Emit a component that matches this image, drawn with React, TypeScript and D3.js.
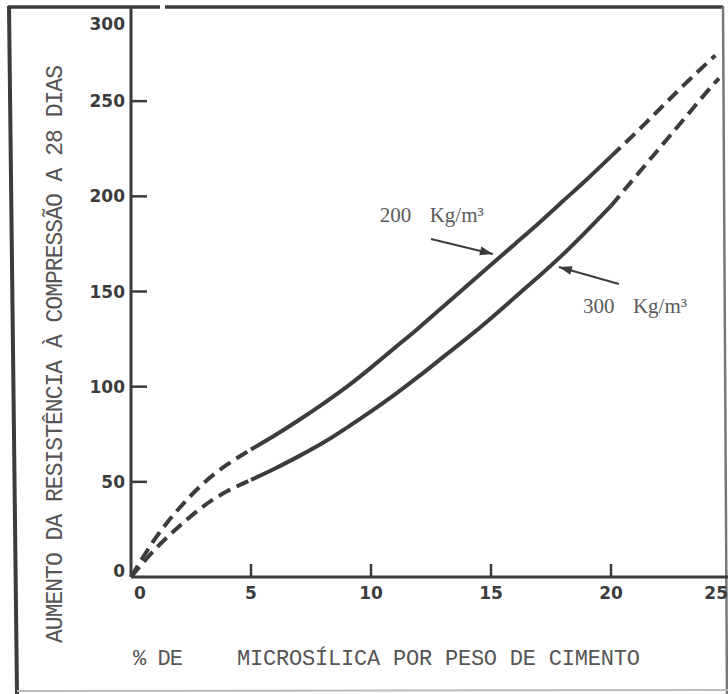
import React from "react";
import * as d3 from "d3";

// ---- data ----
const xTicks = [0, 5, 10, 15, 20, 25];
const yTicks = [0, 50, 100, 150, 200, 250, 300];
const yTickMarks = [50, 100, 150, 200, 250];
const xTickMarks = [5, 10, 15, 20];

// 200 Kg/m3 series
const x200 = [0, 1, 2, 3, 4, 5, 6, 7, 8, 9, 10, 11, 12, 13, 14, 15, 16, 17, 18, 19, 20, 21, 22, 23, 24, 24.35];
const v200 = [0, 20, 36, 49, 59, 67, 74.5, 82.5, 91, 100, 110, 120.5, 131, 142, 153, 164, 175, 186, 197.5, 209, 221, 233, 245.5, 258, 270, 274];

// 300 Kg/m3 series
const x300 = [0, 1, 2, 3, 4, 5, 6, 7, 8, 9, 10, 11, 12, 13, 14, 15, 16, 17, 18, 19, 20, 21, 22, 23, 24, 24.5];
const v300 = [0, 14.5, 26.5, 37, 45, 51, 57, 63.5, 70.5, 78.5, 87, 96, 105.5, 115.5, 125.5, 136, 147, 158, 169.5, 182, 195, 210, 225, 240, 255, 262];

// solid (measured) range for each series; outside it the curve is dashed
const solidFrom = [5, 5];
const solidTo = [20, 20];

const seriesNums = ["200", "300"];
const unitLabel = "Kg/m³";
// label anchor (data units) and arrow start/tip (data units)
const labelPos = [[10.36, 186.5], [18.83, 138.7]];
const arrowStart = [[12.5, 177.6], [20.33, 153.9]];
const arrowTip = [[15.08, 169.7], [17.83, 162.9]];

const yTitle = "AUMENTO DA RESISTÊNCIA À COMPRESSÃO A 28 DIAS";
const xTitleA = "% DE";
const xTitleB = "MICROSÍLICA POR PESO DE CIMENTO";

const W = 728;
const H = 694;
const INK = "#3c3c3c";
const TEXT = "#555";

export default function App() {
  const x = d3.scaleLinear().domain([0, 25]).range([131, 731]);
  const y = d3.scaleLinear().domain([0, 300]).range([577, 6]);
  const line = d3
    .line<[number, number]>()
    .x((d) => x(d[0]))
    .y((d) => y(d[1]))
    .curve(d3.curveNatural);

  const series = [
    x200.map((xv, i) => [xv, v200[i]] as [number, number]),
    x300.map((xv, i) => [xv, v300[i]] as [number, number]),
  ];

  const segs: { d: string; dashed: boolean }[] = [];
  series.forEach((pts, si) => {
    const a = pts.filter((p) => p[0] <= solidFrom[si]);
    const b = pts.filter((p) => p[0] >= solidFrom[si] && p[0] <= solidTo[si]);
    const c = pts.filter((p) => p[0] >= solidTo[si]);
    segs.push({ d: line(a) || "", dashed: true });
    segs.push({ d: line(b) || "", dashed: false });
    segs.push({ d: line(c) || "", dashed: true });
  });

  const arrowHead = (sx: number, sy: number, tx: number, ty: number) => {
    const ang = Math.atan2(ty - sy, tx - sx);
    const L = 13;
    const w = 4.5;
    const bx = tx - L * Math.cos(ang);
    const by = ty - L * Math.sin(ang);
    const px = -Math.sin(ang) * w;
    const py = Math.cos(ang) * w;
    return `M${tx},${ty}L${bx + px},${by + py}L${bx - px},${by - py}Z`;
  };

  return (
    <svg
      width={W}
      height={H}
      style={{ position: "absolute", left: 0, top: 0, background: "#fff" }}
    >
      <rect x={0} y={0} width={W} height={H} fill="#fff" />
      {/* frame */}
      <line x1={8} y1={7} x2={160} y2={7} stroke={INK} strokeWidth={3.5} />
      <line x1={165} y1={7} x2={723} y2={7} stroke={INK} strokeWidth={3.5} />
      <line x1={9} y1={6} x2={17} y2={694} stroke={INK} strokeWidth={4} />
      <line x1={723} y1={6} x2={727} y2={694} stroke="#777" strokeWidth={2.5} />
      <line x1={17} y1={691} x2={728} y2={690} stroke="#bbb" strokeWidth={2} />

      {/* axes */}
      <line x1={x(0)} y1={y(0)} x2={x(0)} y2={7} stroke={INK} strokeWidth={3} />
      <line x1={x(0)} y1={y(0)} x2={W} y2={y(0)} stroke={INK} strokeWidth={3} />
      {yTickMarks.map((v) => (
        <line key={"yt" + v} x1={x(0)} x2={x(0) + 16} y1={y(v)} y2={y(v)} stroke={INK} strokeWidth={2.5} />
      ))}
      {xTickMarks.map((v) => (
        <line key={"xt" + v} x1={x(v)} x2={x(v)} y1={y(0)} y2={y(0) - 13} stroke={INK} strokeWidth={2.5} />
      ))}
      {yTicks.map((v) => (
        <text
          key={"yl" + v}
          x={x(0) - 6}
          y={Math.min(Math.max(y(v), 24), 571)}
          textAnchor="end"
          dominantBaseline="central"
          fontFamily="DejaVu Sans, sans-serif"
          fontWeight="bold"
          fontSize={17}
          fill={INK}
        >
          {v}
        </text>
      ))}
      {xTicks.map((v, i) => {
        const px = x(v);
        const anchor = i === 0 ? "start" : px > W - 12 ? "end" : "middle";
        const tx = i === 0 ? px + 3 : Math.min(px, W);
        return (
          <text
            key={"xl" + v}
            x={tx}
            y={599}
            textAnchor={anchor}
            fontFamily="DejaVu Sans, sans-serif"
            fontWeight="bold"
            fontSize={17}
            fill={INK}
          >
            {v}
          </text>
        );
      })}

      {/* curves */}
      {segs.map((s, i) => (
        <path
          key={"s" + i}
          d={s.d}
          fill="none"
          stroke={INK}
          strokeWidth={4}
          strokeDasharray={s.dashed ? "13,7" : undefined}
        />
      ))}

      {/* annotations */}
      {seriesNums.map((num, i) => {
        const sx = x(arrowStart[i][0]);
        const sy = y(arrowStart[i][1]);
        const tx = x(arrowTip[i][0]);
        const ty = y(arrowTip[i][1]);
        const lx = x(labelPos[i][0]);
        const ly = y(labelPos[i][1]);
        return (
          <g key={"an" + i}>
            <text x={lx} y={ly} fontFamily="Liberation Serif, serif" fontSize={21} fill="#5a5a5a">
              <tspan x={lx}>{num}</tspan>
              <tspan x={lx + 50}>{unitLabel}</tspan>
            </text>
            <line x1={sx} y1={sy} x2={tx} y2={ty} stroke={INK} strokeWidth={2} />
            <path d={arrowHead(sx, sy, tx, ty)} fill={INK} />
          </g>
        );
      })}

      {/* axis titles */}
      <text
        transform="translate(62,354) rotate(-90)"
        textAnchor="middle"
        fontFamily="Liberation Mono, monospace"
        fontSize={23}
        fill={TEXT}
        textLength={578}
        lengthAdjust="spacing"
      >
        {yTitle}
      </text>
      <text
        x={133}
        y={665}
        fontFamily="Liberation Mono, monospace"
        fontSize={22}
        fill={TEXT}
        textLength={50}
        lengthAdjust="spacing"
      >
        {xTitleA}
      </text>
      <text
        x={237}
        y={665}
        fontFamily="Liberation Mono, monospace"
        fontSize={22}
        fill={TEXT}
        textLength={403}
        lengthAdjust="spacing"
      >
        {xTitleB}
      </text>
    </svg>
  );
}
